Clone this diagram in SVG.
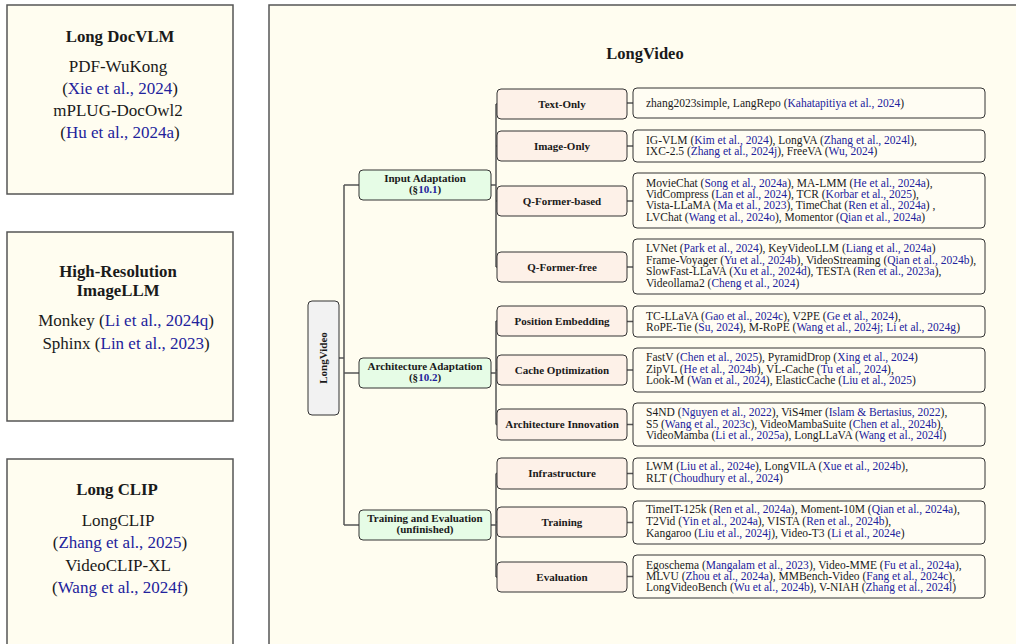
<svg xmlns="http://www.w3.org/2000/svg" width="1016" height="644" viewBox="0 0 1016 644">
<style>
text{font-family:"Liberation Serif","DejaVu Serif",serif;fill:#1a1a1a}
.panel{fill:#FFFDF0;stroke:#555;stroke-width:1.5}
.pt{font-size:16.8px;font-weight:bold;text-anchor:middle}
.pb{font-size:17px;text-anchor:middle}
.c{fill:#22229C}
.root{fill:#F2F2F2;stroke:#333;stroke-width:1}
.l1{fill:#E6FCE6;stroke:#333;stroke-width:1}
.l2{fill:#FDF1E8;stroke:#333;stroke-width:1}
.leaf{fill:#FFFDF3;stroke:#333;stroke-width:1}
.nb{font-size:11px;font-weight:bold;text-anchor:middle}
.lt{font-size:11.5px}
.conn line,.conn path{stroke:#555;stroke-width:1.5;fill:none}
</style>
<rect width="1016" height="644" fill="#fff"/>
<g id="panel-docvlm">
<rect class="panel" x="7" y="5" width="226" height="189"/>
<text class="pt" x="120" y="42">Long DocVLM</text>
<text class="pb" x="118" y="72">PDF-WuKong</text>
<text class="pb" x="120" y="94">(<tspan class="c">Xie et al., 2024</tspan>)</text>
<text class="pb" x="118" y="116">mPLUG-DocOwl2</text>
<text class="pb" x="120" y="138">(<tspan class="c">Hu et al., 2024a</tspan>)</text>
</g>
<g id="panel-hires">
<rect class="panel" x="7" y="232" width="226" height="189"/>
<text class="pt" x="118" y="277">High-Resolution</text>
<text class="pt" x="118" y="296">ImageLLM</text>
<text class="pb" x="126" y="326">Monkey (<tspan class="c">Li et al., 2024q</tspan>)</text>
<text class="pb" x="126" y="349">Sphinx (<tspan class="c">Lin et al., 2023</tspan>)</text>
</g>
<g id="panel-clip">
<rect class="panel" x="7" y="459" width="226" height="200"/>
<text class="pt" x="117" y="495">Long CLIP</text>
<text class="pb" x="118" y="526">LongCLIP</text>
<text class="pb" x="120" y="548">(<tspan class="c">Zhang et al., 2025</tspan>)</text>
<text class="pb" x="118" y="571">VideoCLIP-XL</text>
<text class="pb" x="120" y="593">(<tspan class="c">Wang et al., 2024f</tspan>)</text>
</g>
<g id="panel-longvideo">
<rect class="panel" x="269" y="5" width="760" height="660"/>
<text x="645" y="59" style="font-size:16.5px;font-weight:bold;text-anchor:middle">LongVideo</text>
</g>
<g class="conn" id="connectors">
<path d="M339 358H344M344 185V525M344 185H359M344 373H359M344 525H359"/>
<path d="M491 185H496M496 104V267M496 104H497M496 146H497M496 201H497M496 267H497"/>
<path d="M491 373H496M496 321V424.5M496 321H497M496 370H497M496 424.5H497"/>
<path d="M491 525H496M496 473.5V577M496 473.5H497M496 522H497M496 577H497"/>
<path d="M627 103H633M627 146H633M627 201H633M627 267H633M627 321.5H633M627 370H633M627 424.5H633M627 473.5H633M627 522.5H633M627 576.5H633"/>
</g>
<g id="root">
<rect class="root" x="308" y="301" width="31" height="114" rx="4"/>
<text class="nb" transform="translate(327 358) rotate(-90)" x="0" y="0">LongVideo</text>
</g>
<g id="input-adaptation">
<rect class="l1" x="359" y="170" width="132" height="30" rx="4"/>
<text class="nb" x="425" y="182">Input Adaptation</text>
<text class="nb" x="425" y="193">(§<tspan class="c">10.1</tspan>)</text>
</g>
<g id="architecture-adaptation">
<rect class="l1" x="359" y="358" width="132" height="30" rx="4"/>
<text class="nb" x="425" y="370">Architecture Adaptation</text>
<text class="nb" x="425" y="381">(§<tspan class="c">10.2</tspan>)</text>
</g>
<g id="training-evaluation">
<rect class="l1" x="359" y="510" width="132" height="30" rx="4"/>
<text class="nb" x="425" y="522">Training and Evaluation</text>
<text class="nb" x="425" y="533">(unfinished)</text>
</g>
<g id="text-only">
<rect class="l2" x="497" y="89" width="130" height="30" rx="4"/>
<text class="nb" x="562" y="107.5">Text-Only</text>
</g>
<g id="image-only">
<rect class="l2" x="497" y="131" width="130" height="30" rx="4"/>
<text class="nb" x="562" y="149.5">Image-Only</text>
</g>
<g id="qformer-based">
<rect class="l2" x="497" y="186" width="130" height="30" rx="4"/>
<text class="nb" x="562" y="204.5">Q-Former-based</text>
</g>
<g id="qformer-free">
<rect class="l2" x="497" y="252" width="130" height="30" rx="4"/>
<text class="nb" x="562" y="270.5">Q-Former-free</text>
</g>
<g id="position-embedding">
<rect class="l2" x="497" y="306" width="130" height="30" rx="4"/>
<text class="nb" x="562" y="324.5">Position Embedding</text>
</g>
<g id="cache-optimization">
<rect class="l2" x="497" y="355" width="130" height="30" rx="4"/>
<text class="nb" x="562" y="373.5">Cache Optimization</text>
</g>
<g id="architecture-innovation">
<rect class="l2" x="497" y="409" width="130" height="31" rx="4"/>
<text class="nb" x="562" y="428">Architecture Innovation</text>
</g>
<g id="infrastructure">
<rect class="l2" x="497" y="458" width="130" height="31" rx="4"/>
<text class="nb" x="562" y="477">Infrastructure</text>
</g>
<g id="training">
<rect class="l2" x="497" y="507" width="130" height="30" rx="4"/>
<text class="nb" x="562" y="525.5">Training</text>
</g>
<g id="evaluation">
<rect class="l2" x="497" y="562" width="130" height="30" rx="4"/>
<text class="nb" x="562" y="580.5">Evaluation</text>
</g>
<g id="leaf-text-only">
<rect class="leaf" x="633" y="88" width="352" height="30" rx="4"/>
<text class="lt" x="646" y="106.5">zhang2023simple, LangRepo (<tspan class="c">Kahatapitiya et al., 2024</tspan>)</text>
</g>
<g id="leaf-image-only">
<rect class="leaf" x="633" y="130" width="352" height="32" rx="4"/>
<text class="lt" x="646" y="143.5">IG-VLM (<tspan class="c">Kim et al., 2024</tspan>), LongVA (<tspan class="c">Zhang et al., 2024l</tspan>),</text>
<text class="lt" x="646" y="154.8">IXC-2.5 (<tspan class="c">Zhang et al., 2024j</tspan>), FreeVA (<tspan class="c">Wu, 2024</tspan>)</text>
</g>
<g id="leaf-qformer-based">
<rect class="leaf" x="633" y="173" width="352" height="55" rx="4"/>
<text class="lt" x="646" y="186.6">MovieChat (<tspan class="c">Song et al., 2024a</tspan>), MA-LMM (<tspan class="c">He et al., 2024a</tspan>),</text>
<text class="lt" x="646" y="197.9">VidCompress (<tspan class="c">Lan et al., 2024</tspan>), TCR (<tspan class="c">Korbar et al., 2025</tspan>),</text>
<text class="lt" x="646" y="209.2">Vista-LLaMA (<tspan class="c">Ma et al., 2023</tspan>), TimeChat (<tspan class="c">Ren et al., 2024a</tspan>) ,</text>
<text class="lt" x="646" y="220.5">LVChat (<tspan class="c">Wang et al., 2024o</tspan>), Momentor (<tspan class="c">Qian et al., 2024a</tspan>)</text>
</g>
<g id="leaf-qformer-free">
<rect class="leaf" x="633" y="239" width="352" height="55" rx="4"/>
<text class="lt" x="646" y="252.1">LVNet (<tspan class="c">Park et al., 2024</tspan>), KeyVideoLLM (<tspan class="c">Liang et al., 2024a</tspan>)</text>
<text class="lt" x="646" y="263.6">Frame-Voyager (<tspan class="c">Yu et al., 2024b</tspan>), VideoStreaming (<tspan class="c">Qian et al., 2024b</tspan>),</text>
<text class="lt" x="646" y="275.1">SlowFast-LLaVA (<tspan class="c">Xu et al., 2024d</tspan>), TESTA (<tspan class="c">Ren et al., 2023a</tspan>),</text>
<text class="lt" x="646" y="286.6">Videollama2 (<tspan class="c">Cheng et al., 2024</tspan>)</text>
</g>
<g id="leaf-position-embedding">
<rect class="leaf" x="633" y="306" width="352" height="31" rx="4"/>
<text class="lt" x="646" y="319.5">TC-LLaVA (<tspan class="c">Gao et al., 2024c</tspan>), V2PE (<tspan class="c">Ge et al., 2024</tspan>),</text>
<text class="lt" x="646" y="330.8">RoPE-Tie (<tspan class="c">Su, 2024</tspan>), M-RoPE (<tspan class="c">Wang et al., 2024j; Li et al., 2024g</tspan>)</text>
</g>
<g id="leaf-cache-optimization">
<rect class="leaf" x="633" y="348" width="352" height="44" rx="4"/>
<text class="lt" x="646" y="361.3">FastV (<tspan class="c">Chen et al., 2025</tspan>), PyramidDrop (<tspan class="c">Xing et al., 2024</tspan>)</text>
<text class="lt" x="646" y="372.6">ZipVL (<tspan class="c">He et al., 2024b</tspan>), VL-Cache (<tspan class="c">Tu et al., 2024</tspan>),</text>
<text class="lt" x="646" y="383.9">Look-M (<tspan class="c">Wan et al., 2024</tspan>), ElasticCache (<tspan class="c">Liu et al., 2025</tspan>)</text>
</g>
<g id="leaf-architecture-innovation">
<rect class="leaf" x="633" y="403" width="352" height="43" rx="4"/>
<text class="lt" x="646" y="416.3">S4ND (<tspan class="c">Nguyen et al., 2022</tspan>), ViS4mer (<tspan class="c">Islam &amp; Bertasius, 2022</tspan>),</text>
<text class="lt" x="646" y="427.8">S5 (<tspan class="c">Wang et al., 2023c</tspan>), VideoMambaSuite (<tspan class="c">Chen et al., 2024b</tspan>),</text>
<text class="lt" x="646" y="439.3">VideoMamba (<tspan class="c">Li et al., 2025a</tspan>), LongLLaVA (<tspan class="c">Wang et al., 2024l</tspan>)</text>
</g>
<g id="leaf-infrastructure">
<rect class="leaf" x="633" y="458" width="352" height="31" rx="4"/>
<text class="lt" x="646" y="469.6">LWM (<tspan class="c">Liu et al., 2024e</tspan>), LongVILA (<tspan class="c">Xue et al., 2024b</tspan>),</text>
<text class="lt" x="646" y="481.6">RLT (<tspan class="c">Choudhury et al., 2024</tspan>)</text>
</g>
<g id="leaf-training">
<rect class="leaf" x="633" y="501" width="352" height="43" rx="4"/>
<text class="lt" x="646" y="512.9">TimeIT-125k (<tspan class="c">Ren et al., 2024a</tspan>), Moment-10M (<tspan class="c">Qian et al., 2024a</tspan>),</text>
<text class="lt" x="646" y="525.2">T2Vid (<tspan class="c">Yin et al., 2024a</tspan>), VISTA (<tspan class="c">Ren et al., 2024b</tspan>),</text>
<text class="lt" x="646" y="536.8">Kangaroo (<tspan class="c">Liu et al., 2024j</tspan>), Video-T3 (<tspan class="c">Li et al., 2024e</tspan>)</text>
</g>
<g id="leaf-evaluation">
<rect class="leaf" x="633" y="555" width="352" height="43" rx="4"/>
<text class="lt" x="646" y="568.6">Egoschema (<tspan class="c">Mangalam et al., 2023</tspan>), Video-MME (<tspan class="c">Fu et al., 2024a</tspan>),</text>
<text class="lt" x="646" y="579.8">MLVU (<tspan class="c">Zhou et al., 2024a</tspan>), MMBench-Video (<tspan class="c">Fang et al., 2024c</tspan>),</text>
<text class="lt" x="646" y="591.2">LongVideoBench (<tspan class="c">Wu et al., 2024b</tspan>), V-NIAH (<tspan class="c">Zhang et al., 2024l</tspan>)</text>
</g>
</svg>
